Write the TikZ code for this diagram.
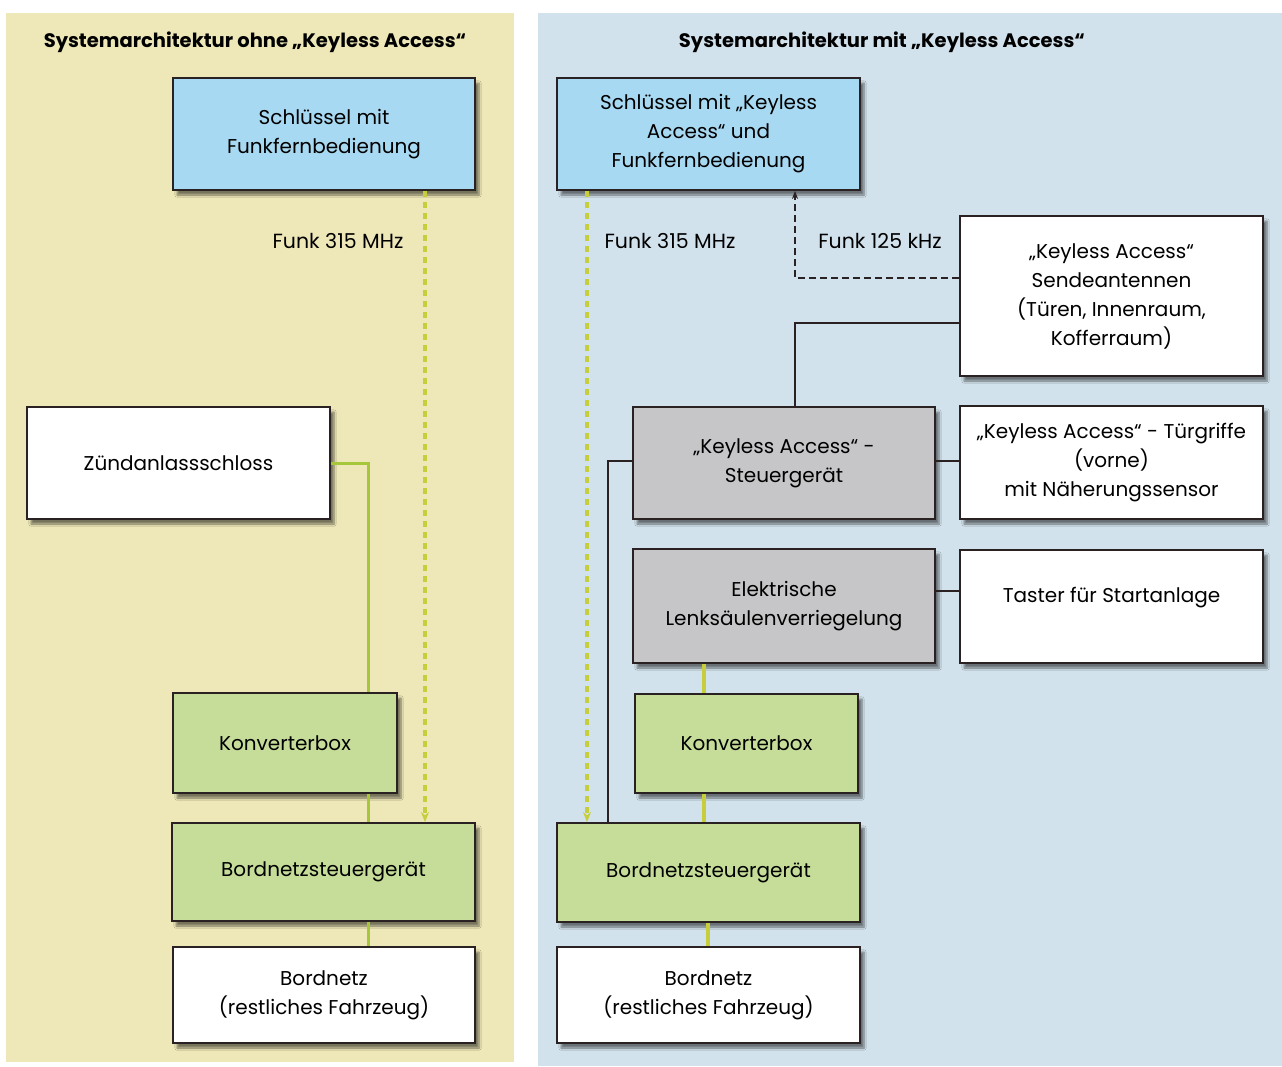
\documentclass[tikz,border=0pt]{standalone}
\usepackage{fontspec}
\setmainfont{Poppins}
\usetikzlibrary{arrows.meta,shadows.blur}

\definecolor{panelyellow}{HTML}{EEE8B8}
\definecolor{panelblue}{HTML}{D2E2EC}
\definecolor{keyblue}{HTML}{A8D9F2}
\definecolor{boxgreen}{HTML}{C6DD99}
\definecolor{boxgrey}{HTML}{C6C6C8}
\definecolor{edge}{HTML}{2A2222}
\definecolor{wiregreen}{HTML}{A6C63C}
\definecolor{wireyellow}{HTML}{C6CE3C}

\tikzset{
  box/.style={draw=edge, line width=1.8pt, align=center, inner sep=4pt,
    font=\fontsize{20}{29}\selectfont,
    blur shadow={shadow xshift=4pt, shadow yshift=-5pt, shadow blur steps=6, shadow opacity=50}},
  lbl/.style={font=\fontsize{20.5}{29}\selectfont},
  ttl/.style={font=\bfseries\fontsize{19.5}{24}\selectfont},
  radio/.style={wireyellow, line width=3.6pt, dash pattern=on 6pt off 5pt,
    -{Stealth[length=10pt,width=8pt]}},
  lfwire/.style={draw=edge, line width=1.6pt, dash pattern=on 7pt off 4pt,
    -{Stealth[length=8pt,width=6pt]}},
  bus/.style={draw=edge, line width=1.6pt},
  power/.style={wiregreen, line width=3pt},
  powery/.style={wireyellow, line width=3.4pt},
}

\begin{document}
\begin{tikzpicture}[x=1pt, y=-1pt]
\useasboundingbox (0,0) rectangle (1282,1066);
\fill[white] (0,0) rectangle (1282,1066);

% the two panels
\fill[panelyellow] (6,13) rectangle (514,1062);
\fill[panelblue] (538,13) rectangle (1282,1066);

\node[ttl] (titleL) at (255,42) {Systemarchitektur ohne „Keyless Access“};
\node[ttl] (titleR) at (882,42) {Systemarchitektur mit „Keyless Access“};

% ---------- without Keyless Access ----------
\node[box, fill=keyblue, minimum width=302pt, minimum height=112pt] (kL) at (324,134)
  {Schlüssel mit\\Funkfernbedienung};
\node[box, fill=white, minimum width=303pt, minimum height=112pt] (zL) at (178.5,463)
  {Zündanlassschloss};
\node[box, fill=boxgreen, minimum width=224pt, minimum height=100pt] (cL) at (285,743)
  {Konverterbox};
\node[box, fill=boxgreen, minimum width=303pt, minimum height=98pt] (bL) at (323.5,872)
  {Bordnetzsteuergerät};
\node[box, fill=white, minimum width=302pt, minimum height=96pt] (nL) at (324,995)
  {Bordnetz\\(restliches Fahrzeug)};

\coordinate (rfL) at (425,0);
\coordinate (pwL) at (368,0);
\draw[radio] (kL.south -| rfL) -- (bL.north -| rfL);
\node[lbl] (fL) at (338,241) {Funk 315 MHz};
\draw[power] (zL.east) -| (cL.north -| pwL);
\draw[power] (cL.south -| pwL) -- (bL.north -| pwL);
\draw[power] (bL.south -| pwL) -- (nL.north -| pwL);

% ---------- with Keyless Access ----------
\node[box, fill=keyblue, minimum width=303pt, minimum height=112pt] (kR) at (708.5,134)
  {Schlüssel mit „Keyless\\Access“ und\\Funkfernbedienung};
\node[box, fill=white, minimum width=303pt, minimum height=160pt] (sR) at (1111.5,296)
  {„Keyless Access“\\Sendeantennen\\(Türen, Innenraum,\\Kofferraum)};
\node[box, fill=boxgrey, minimum width=302pt, minimum height=112pt] (gR) at (784,463)
  {„Keyless Access“ -\\Steuergerät};
\node[box, fill=white, minimum width=303pt, minimum height=113pt] (tR) at (1111.5,462.5)
  {„Keyless Access“ - Türgriffe\\(vorne)\\mit Näherungssensor};
\node[box, fill=boxgrey, minimum width=302pt, minimum height=114pt] (lR) at (784,606)
  {Elektrische\\Lenksäulenverriegelung};
\node[box, fill=white, minimum width=303pt, minimum height=113pt] (xR) at (1111.5,606.5)
  {\raisebox{24pt}{Taster für Startanlage}};
\node[box, fill=boxgreen, minimum width=223pt, minimum height=99pt] (cR) at (746.5,743.5)
  {Konverterbox};
\node[box, fill=boxgreen, minimum width=303pt, minimum height=99pt] (bR) at (708.5,872.5)
  {Bordnetzsteuergerät};
\node[box, fill=white, minimum width=303pt, minimum height=96pt] (nR) at (708.5,995)
  {Bordnetz\\(restliches Fahrzeug)};

\coordinate (rfR) at (587,0);
\coordinate (lfx) at (795,0);
\coordinate (lfy) at (0,278);
\coordinate (busy) at (0,323);
\coordinate (can) at (608,0);
\coordinate (canY) at (0,461);
\coordinate (btnY) at (0,591);
\coordinate (pwR) at (704,0);
\coordinate (pwR2) at (708,0);

\draw[radio] (kR.south -| rfR) -- (bR.north -| rfR);
\node[lbl] (fR) at (670,241) {Funk 315 MHz};
\draw[lfwire] (sR.west |- lfy) -| (kR.south -| lfx);
\node[lbl] (fK) at (880,241) {Funk 125 kHz};
\draw[bus] (sR.west |- busy) -| (gR.north -| lfx);
\draw[bus] (gR.east |- canY) -- (tR.west |- canY);
\draw[bus] (lR.east |- btnY) -- (xR.west |- btnY);
\draw[bus] (gR.west |- canY) -| (bR.north -| can);
\draw[powery] (lR.south -| pwR) -- (cR.north -| pwR);
\draw[powery] (cR.south -| pwR) -- (bR.north -| pwR);
\draw[powery] (bR.south -| pwR2) -- (nR.north -| pwR2);
\end{tikzpicture}
\end{document}
